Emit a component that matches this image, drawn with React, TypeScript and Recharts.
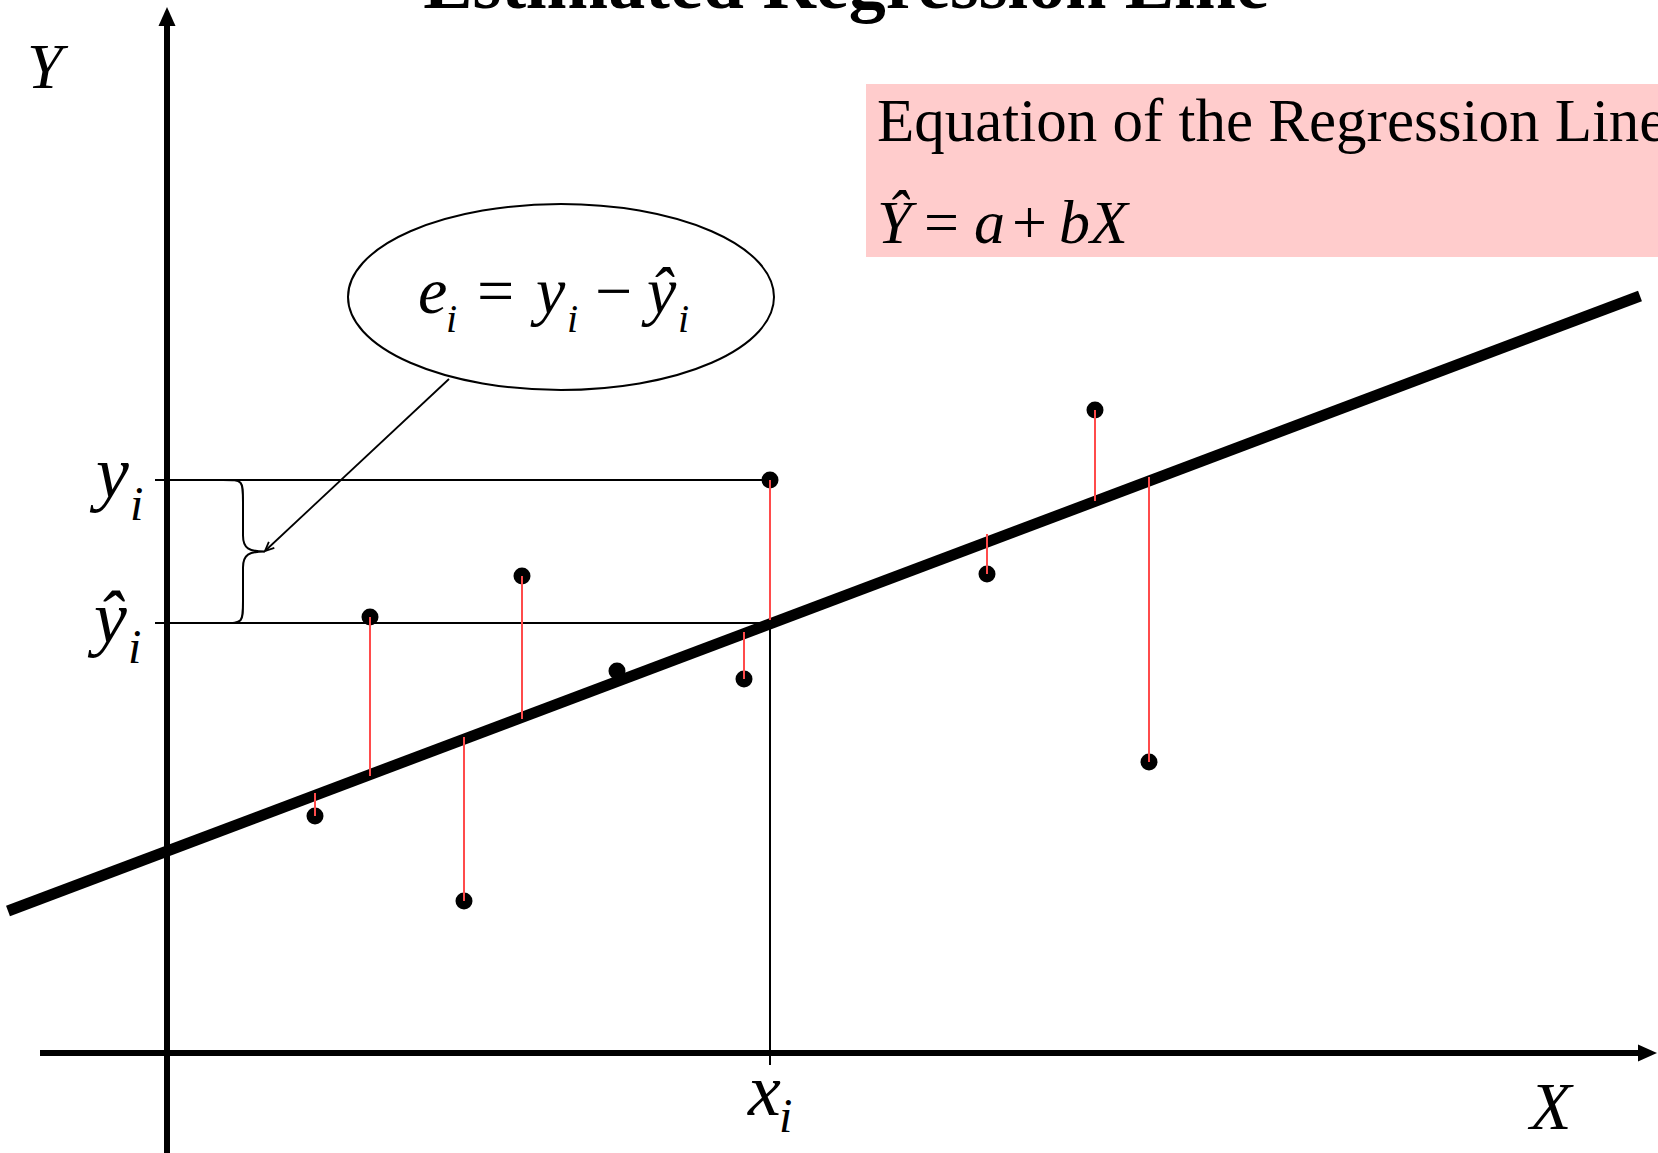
import { ComposedChart, XAxis, YAxis, Scatter, ReferenceLine, ReferenceDot, ReferenceArea } from 'recharts'

// diagram units: origin where the two axes cross, 1 unit ~ 100px
const obsX = [1.48, 2.03, 2.97, 3.55, 4.50, 5.77, 6.03, 8.20, 9.28, 9.82]
const obsY = [2.37, 4.36, 1.52, 4.77, 3.82, 3.74, 5.73, 4.79, 6.43, 2.91]
// where each residual meets the fitted line (null: the point sits on it)
const fittedY = [2.60, 2.77, 3.16, 3.34, null, 4.21, 4.33, 5.19, 5.52, 5.76]

// estimated regression line, two ends
const lineX = [-1.59, 14.73]
const lineY = [1.42, 7.57]

const highlight = 6 // the (x_i, y_i) point
const yHatI = 4.30

const X_DOMAIN = [-1.67, 14.91]
const Y_DOMAIN = [-1.0, 10.53]

const points = obsX.map((x, i) => ({ x, y: obsY[i] }))

const SERIF = '"Liberation Serif", "Times New Roman", serif'

function Arrow(p: any) {
  const { x1, y1, x2, y2 } = p
  const len = Math.hypot(x2 - x1, y2 - y1)
  const ux = (x2 - x1) / len
  const uy = (y2 - y1) / len
  const bx = x2 - ux * 19
  const by = y2 - uy * 19
  const px = -uy * 8.5
  const py = ux * 8.5
  return (
    <g>
      <line x1={x1} y1={y1} x2={bx} y2={by} stroke="#000" strokeWidth={6} />
      <polygon points={`${x2},${y2} ${bx + px},${by + py} ${bx - px},${by - py}`} fill="#000" />
    </g>
  )
}

function Brace(p: any) {
  const { x1, y1, x2, y2 } = p
  const sx = x1 + 20
  const mid = (y1 + y2) / 2
  const d = `M${x1},${y1} C${sx},${y1} ${sx},${y1} ${sx},${y1 + 22} L${sx},${mid - 16} C${sx},${mid - 3} ${sx + 6},${mid} ${x2},${mid} ` +
    `C${sx + 6},${mid} ${sx},${mid + 3} ${sx},${mid + 16} L${sx},${y2 - 22} C${sx},${y2} ${sx},${y2} ${x1},${y2}`
  return <path d={d} fill="none" stroke="#000" strokeWidth={2} />
}

function Callout(p: any) {
  const { x1, y1, x2, y2 } = p
  const len = Math.hypot(x2 - x1, y2 - y1)
  const ux = (x2 - x1) / len
  const uy = (y2 - y1) / len
  const bx = x2 - ux * 9
  const by = y2 - uy * 9
  return (
    <g fill="none" stroke="#000" strokeWidth={1.8}>
      <line x1={x1} y1={y1} x2={x2} y2={y2} />
      <polyline points={`${bx - uy * 4},${by + ux * 4} ${x2},${y2} ${bx + uy * 4},${by - ux * 4}`} />
    </g>
  )
}

const txt = (x: number, y: number, s: string, size: number, italic = true) => (
  <text x={x} y={y} fontFamily={SERIF} fontSize={size} fontStyle={italic ? 'italic' : 'normal'} fill="#000">{s}</text>
)

export default function App() {
  return (
    <div style={{ position: 'absolute', left: 0, top: 0, background: '#fff' }}>
      <ComposedChart width={1658} height={1153} margin={{ top: 0, right: 0, bottom: 0, left: 0 }}>
        <XAxis type="number" dataKey="x" domain={X_DOMAIN} allowDataOverflow hide />
        <YAxis type="number" dataKey="y" domain={Y_DOMAIN} allowDataOverflow hide />

        <ReferenceArea x1={6.99} x2={14.91} y1={7.96} y2={9.69} ifOverflow="visible"
          shape={(p: any) => (
            <g>
              <rect x={p.x} y={p.y} width={p.width} height={p.height} fill="#ffcccc" />
              <text x={p.x + 11} y={p.y + 57} fontFamily={SERIF} fontSize={61} fill="#000">
                Equation of the Regression Line
              </text>
              {txt(p.x + 11, p.y + 159, 'Ŷ', 62)}
              {txt(p.x + 58, p.y + 159, '=', 62, false)}
              {txt(p.x + 108, p.y + 159, 'a', 62)}
              {txt(p.x + 146, p.y + 159, '+', 62, false)}
              {txt(p.x + 193, p.y + 159, 'bX', 62)}
            </g>
          )} />

        <ReferenceDot x={6.79} y={10.53} ifOverflow="visible"
          shape={(p: any) => (
            <text x={p.cx} y={p.cy + 8} textAnchor="middle" fontFamily={SERIF} fontWeight="bold" fontSize={74} fill="#000">
              Estimated Regression Line
            </text>
          )} />

        {/* axes */}
        <ReferenceLine segment={[{ x: -1.27, y: 0 }, { x: 14.90, y: 0 }]} shape={Arrow} />
        <ReferenceLine segment={[{ x: 0, y: -1.0 }, { x: 0, y: 10.46 }]} shape={Arrow} />

        {/* guides for the highlighted point */}
        <ReferenceLine segment={[{ x: -0.12, y: obsY[highlight] }, { x: obsX[highlight], y: obsY[highlight] }]} stroke="#000" strokeWidth={2} />
        <ReferenceLine segment={[{ x: -0.12, y: yHatI }, { x: obsX[highlight], y: yHatI }]} stroke="#000" strokeWidth={2} />
        <ReferenceLine segment={[{ x: obsX[highlight], y: yHatI }, { x: obsX[highlight], y: -0.12 }]} stroke="#000" strokeWidth={2} />
        <ReferenceLine segment={[{ x: 0.56, y: obsY[highlight] }, { x: 0.98, y: yHatI }]} shape={Brace} />
        <ReferenceLine segment={[{ x: 2.82, y: 6.74 }, { x: 0.98, y: 5.02 }]} shape={Callout} />

        <ReferenceLine segment={[{ x: lineX[0], y: lineY[0] }, { x: lineX[1], y: lineY[1] }]} stroke="#000" strokeWidth={11} />

        <Scatter data={points} isAnimationActive={false} zIndex={600}
          shape={(p: any) => <circle cx={p.cx} cy={p.cy} r={8.5} fill="#000" />} />

        {points.map((pt, i) =>
          fittedY[i] == null ? null : (
            <ReferenceLine key={i} zIndex={700} segment={[{ x: pt.x, y: pt.y }, { x: pt.x, y: fittedY[i] as number }]}
              stroke="#ff4b4b" strokeWidth={2} />
          )
        )}

        {/* callout bubble */}
        <ReferenceDot x={3.94} y={7.56} ifOverflow="visible"
          shape={(p: any) => (
            <g>
              <ellipse cx={p.cx} cy={p.cy} rx={213} ry={93} fill="#fff" stroke="#000" strokeWidth={2} />
              {txt(p.cx - 143, p.cy + 16, 'e', 66)}
              {txt(p.cx - 115, p.cy + 35, 'i', 40)}
              {txt(p.cx - 84, p.cy + 16, '=', 66, false)}
              {txt(p.cx - 25, p.cy + 16, 'y', 66)}
              {txt(p.cx + 6, p.cy + 35, 'i', 40)}
              {txt(p.cx + 34, p.cy + 16, '−', 66, false)}
              {txt(p.cx + 86, p.cy + 16, 'ŷ', 66)}
              {txt(p.cx + 117, p.cy + 35, 'i', 40)}
            </g>
          )} />

        {/* axis labels */}
        <ReferenceDot x={0} y={10.46} ifOverflow="visible"
          shape={(p: any) => txt(p.cx - 140, p.cy + 81, 'Y', 64)} />
        <ReferenceDot x={14.90} y={0} ifOverflow="visible"
          shape={(p: any) => txt(p.cx - 127, p.cy + 76, 'X', 68)} />
        <ReferenceDot x={0} y={obsY[highlight]} ifOverflow="visible"
          shape={(p: any) => (
            <g>
              {txt(p.cx - 71, p.cy + 17, 'y', 74)}
              {txt(p.cx - 37, p.cy + 40, 'i', 48)}
            </g>
          )} />
        <ReferenceDot x={0} y={yHatI} ifOverflow="visible"
          shape={(p: any) => (
            <g>
              {txt(p.cx - 73, p.cy + 19, 'ŷ', 74)}
              {txt(p.cx - 39, p.cy + 40, 'i', 48)}
            </g>
          )} />
        <ReferenceDot x={obsX[highlight]} y={0} ifOverflow="visible"
          shape={(p: any) => (
            <g>
              {txt(p.cx - 22, p.cy + 62, 'x', 74)}
              {txt(p.cx + 9, p.cy + 79, 'i', 48)}
            </g>
          )} />
      </ComposedChart>
    </div>
  )
}
